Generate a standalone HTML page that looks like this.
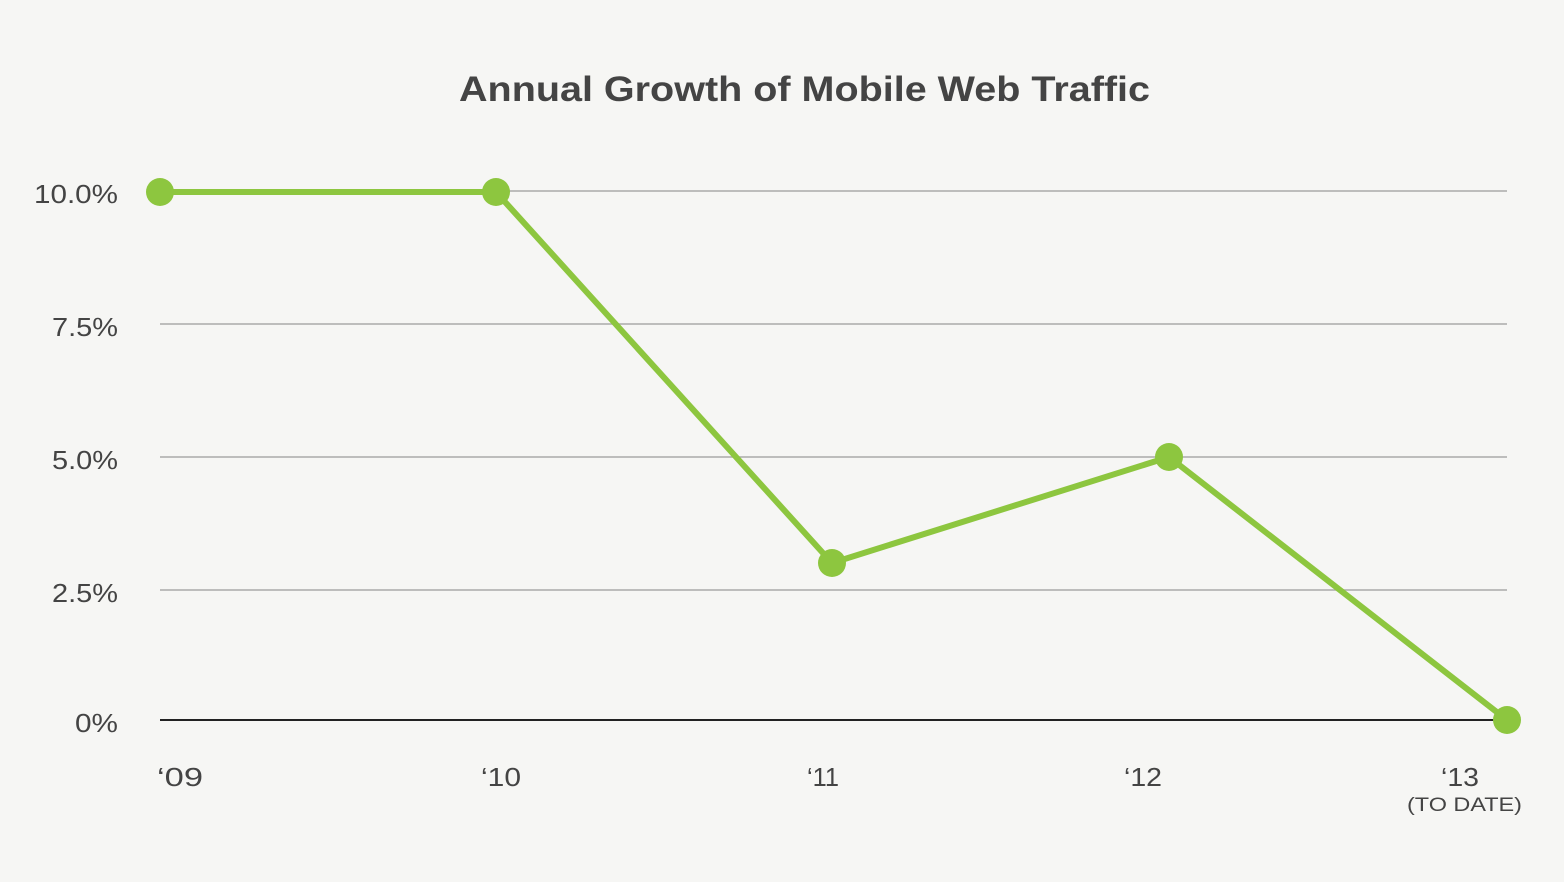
<!DOCTYPE html>
<html><head><style>
html,body{margin:0;padding:0;background:#f6f6f4;}
svg{display:block;}
text{font-family:"Liberation Sans",sans-serif;fill:#444;}
</style></head><body>
<svg width="1564" height="882" viewBox="0 0 1564 882">
<rect width="1564" height="882" fill="#f6f6f4"/>
<text x="459" y="101" font-size="35" font-weight="bold" fill="#444" textLength="691" lengthAdjust="spacingAndGlyphs">Annual Growth of Mobile Web Traffic</text>
<g stroke="#aaa" stroke-width="1.5">
<line x1="160" y1="191" x2="1507" y2="191"/>
<line x1="160" y1="324" x2="1507" y2="324"/>
<line x1="160" y1="457" x2="1507" y2="457"/>
<line x1="160" y1="590" x2="1507" y2="590"/>
</g>
<line x1="160" y1="720" x2="1507" y2="720" stroke="#222" stroke-width="2"/>
<g font-size="26">
<text x="34" y="203" textLength="84" lengthAdjust="spacingAndGlyphs">10.0%</text>
<text x="52" y="336" textLength="66" lengthAdjust="spacingAndGlyphs">7.5%</text>
<text x="52" y="469" textLength="66" lengthAdjust="spacingAndGlyphs">5.0%</text>
<text x="52" y="602" textLength="66" lengthAdjust="spacingAndGlyphs">2.5%</text>
<text x="75" y="732" textLength="43" lengthAdjust="spacingAndGlyphs">0%</text>
</g>
<g font-size="26">
<text x="157" y="786" textLength="46" lengthAdjust="spacingAndGlyphs">‘09</text>
<text x="481" y="786" textLength="40" lengthAdjust="spacingAndGlyphs">‘10</text>
<text x="807" y="786" textLength="32" lengthAdjust="spacingAndGlyphs">‘11</text>
<text x="1124" y="786" textLength="38" lengthAdjust="spacingAndGlyphs">‘12</text>
<text x="1441" y="786" textLength="38" lengthAdjust="spacingAndGlyphs">‘13</text>
<text x="1407" y="811" font-size="19" textLength="115" lengthAdjust="spacingAndGlyphs">(TO DATE)</text>
</g>
<polyline points="160,192 496,192 832,563 1169,457 1507,720" fill="none" stroke="#8dc63f" stroke-width="6" stroke-linejoin="round"/>
<g fill="#8dc63f">
<circle cx="160" cy="192" r="14"/>
<circle cx="496" cy="192" r="14"/>
<circle cx="832" cy="563" r="14"/>
<circle cx="1169" cy="457" r="14"/>
<circle cx="1507" cy="720" r="14"/>
</g>
</svg>
</body></html>
